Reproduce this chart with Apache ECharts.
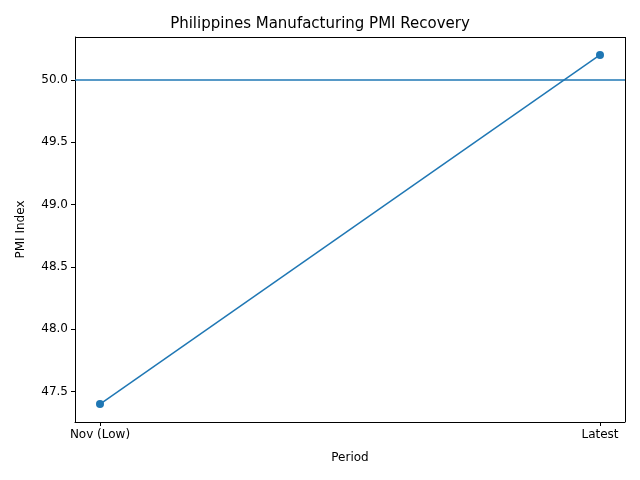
<!DOCTYPE html>
<html><head><meta charset="utf-8">
<script src="https://cdn.jsdelivr.net/npm/echarts@6/dist/echarts.min.js"></script>
<style>html,body{margin:0;padding:0;background:#fff}#main{width:640px;height:480px}</style>
</head><body><div id="main"></div>
<script>
var periods = ['Nov (Low)', 'Latest'];
var pmiValues = [47.4, 50.2];
var yTicks = [47.5, 48.0, 48.5, 49.0, 49.5, 50.0];
var threshold = 50.0;

var chart = echarts.init(document.getElementById('main'));
var font = 'DejaVu Sans';
chart.setOption({
  animation: false,
  textStyle: {fontFamily: font},
  title: {text: 'Philippines Manufacturing PMI Recovery', left: 'center', top: 12,
    textStyle: {fontFamily: font, fontSize: 15, fontWeight: 'normal', color: '#000'}},
  grid: {left: 75, right: 15, top: 37, bottom: 58},
  xAxis: {
    type: 'value', min: -0.05, max: 1.05,
    name: 'Period', nameLocation: 'middle', nameGap: 30,
    nameTextStyle: {fontFamily: font, fontSize: 12, color: '#000'},
    axisLine: {onZero: false, lineStyle: {color: '#000'}},
    axisTick: {show: true, customValues: [0, 1], length: 4, lineStyle: {color: '#000'}},
    axisLabel: {customValues: [0, 1], formatter: function (v) { return periods[Math.round(v)]; },
      color: '#000', fontSize: 12, margin: 7},
    splitLine: {show: false}
  },
  yAxis: {
    type: 'value', min: 47.256, max: 50.344,
    name: 'PMI Index', nameLocation: 'middle', nameGap: 48,
    nameTextStyle: {fontFamily: font, fontSize: 12, color: '#000'},
    axisLine: {show: true, onZero: false, lineStyle: {color: '#000'}},
    axisTick: {show: true, customValues: yTicks, length: 4, lineStyle: {color: '#000'}},
    axisLabel: {customValues: yTicks, formatter: function (v) { return v.toFixed(1); },
      color: '#000', fontSize: 12, margin: 7},
    splitLine: {show: false}
  },
  series: [{
    type: 'line',
    data: pmiValues.map(function (v, i) { return [i, v]; }),
    symbol: 'circle', symbolSize: 8,
    lineStyle: {color: '#1f77b4', width: 1.5},
    itemStyle: {color: '#1f77b4'},
    markLine: {
      silent: true, symbol: 'none', label: {show: false},
      lineStyle: {color: '#1f77b4', type: 'solid', width: 1.5},
      data: [{yAxis: threshold}]
    }
  }, {
    type: 'line', data: [],
    markLine: {silent: true, symbol: 'none', label: {show: false},
      lineStyle: {color: '#000', type: 'solid', width: 1},
      data: [{xAxis: 1.05}, {yAxis: 50.344}]}
  }]
});
</script></body></html>
